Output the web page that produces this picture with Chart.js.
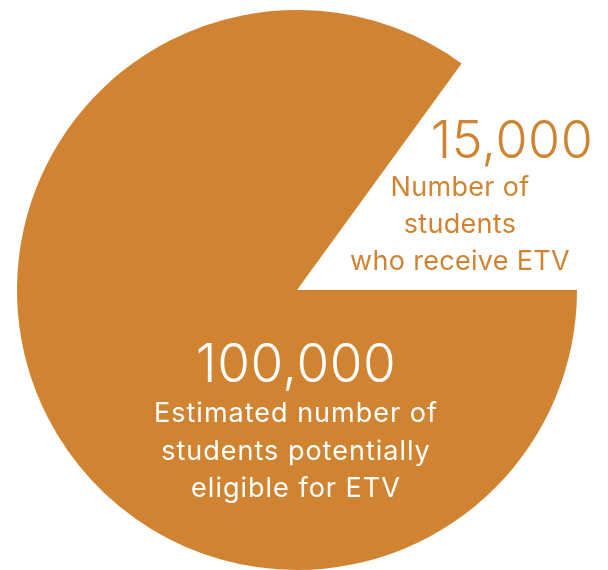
<!DOCTYPE html>
<html>
<head>
<meta charset="utf-8">
<script src="https://cdn.jsdelivr.net/npm/chart.js@4"></script>
<style>
  html, body { margin: 0; padding: 0; background: #ffffff; }
  #wrap { width: 608px; height: 570px; }
</style>
</head>
<body>
<div id="wrap"><canvas id="pie"></canvas></div>
<script>
// -------------------------
// DATA
// -------------------------
const labels = ["Students who receive ETV", "Eligible students not receiving ETV"];
const values = [15000, 85000];
const colors = ["#ffffff", "#d08431"];

const smallTitle = "15,000";
const smallText = ["Number of", "students", "who receive ETV"];
const bigTitle = "100,000";
const bigText = ["Estimated number of", "students potentially", "eligible for ETV"];

const FONT = "Inter";

// -------------------------
// TEXT PLUGIN
// -------------------------
const textLabels = {
  id: "textLabels",
  afterDraw(chart) {
    const { ctx, chartArea } = chart;
    const cx = (chartArea.left + chartArea.right) / 2;
    const cy = (chartArea.top + chartArea.bottom) / 2;

    ctx.save();
    ctx.textAlign = "center";
    ctx.textBaseline = "alphabetic";

    // small slice
    ctx.fillStyle = "#d08431";
    ctx.letterSpacing = "0.5px";
    ctx.font = "300 52px " + FONT;
    ctx.fillText(smallTitle, cx + 215, cy - 132);
    ctx.letterSpacing = "0.3px";
    ctx.font = "27px " + FONT;
    smallText.forEach((t, i) => {
      ctx.fillText(t, cx + 163, cy - 94 + i * 37);
    });

    // big slice
    ctx.fillStyle = "#ffffff";
    ctx.letterSpacing = "0.5px";
    ctx.font = "300 53px " + FONT;
    ctx.fillText(bigTitle, cx - 1, cy + 92);
    ctx.letterSpacing = "1px";
    ctx.font = "27px " + FONT;
    bigText.forEach((t, i) => {
      ctx.fillText(t, cx - 1, cy + 132 + i * 37.5);
    });

    ctx.restore();
  }
};

// -------------------------
// INIT CHART
// -------------------------
function initChart() {
  const ctx = document.getElementById("pie").getContext("2d");

  new Chart(ctx, {
    type: "pie",
    data: {
      labels: labels,
      datasets: [{
        data: values,
        backgroundColor: colors,
        borderWidth: 0
      }]
    },
    options: {
      responsive: true,
      maintainAspectRatio: false,
      animation: false,
      rotation: 36,
      layout: { padding: { left: 17, right: 31, top: 10, bottom: 0 } },
      plugins: {
        legend: { display: false },
        tooltip: { enabled: false }
      }
    },
    plugins: [textLabels]
  });
}

initChart();
</script>
</body>
</html>
